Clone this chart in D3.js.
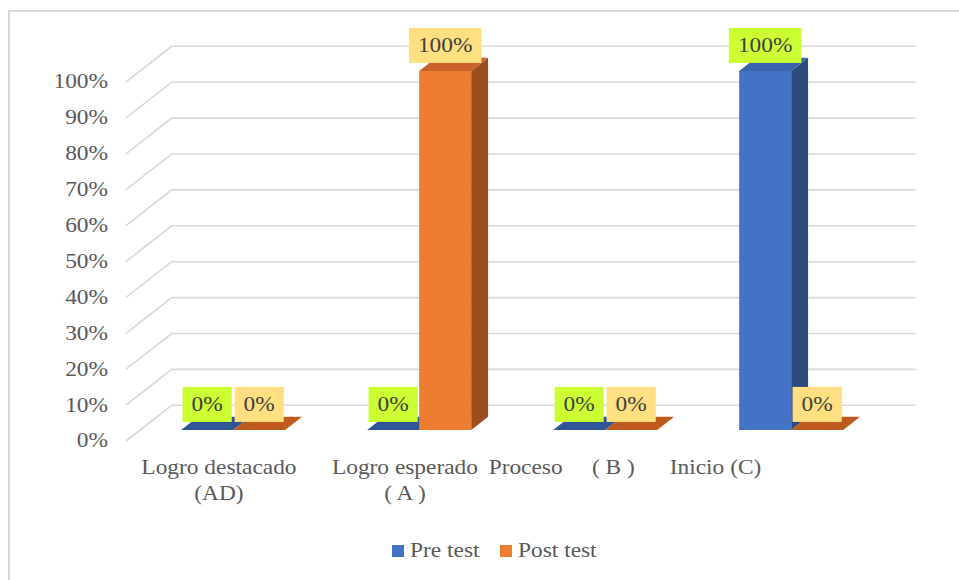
<!DOCTYPE html>
<html><head><meta charset="utf-8">
<script src="https://cdn.jsdelivr.net/npm/d3@7"></script>
<style>body{margin:0;background:#fff}svg{display:block}</style>
</head><body>
<svg id="c" width="959" height="580"></svg>
<script>
const categories = ["Logro destacado\n(AD)", "Logro esperado\n( A )", "Proceso     ( B )          ", "Inicio (C)                     "];
const seriesNames = ["Pre test", "Post test"];
const preTest = [0, 0, 0, 1];
const postTest = [0, 1, 0, 0];
const yTicks = [0, 0.1, 0.2, 0.3, 0.4, 0.5, 0.6, 0.7, 0.8, 0.9, 1.0];

const svg = d3.select("#c");
const FONT = "'Liberation Serif','Times New Roman',serif";
const SX = 1.17;
const FS = 20;

// border
svg.append("rect").attr("x", 9).attr("y", 11).attr("width", 1000).attr("height", 700)
  .attr("fill", "#fff").attr("stroke", "#d9d9d9").attr("stroke-width", 2);

const x = d3.scaleBand().domain(categories).range([126, 870]);
const inner = d3.scaleBand().domain(seriesNames).range([0, 104]);
const y = d3.scaleLinear().domain([0, 1]).range([441, 82]);
const DX = 45.7, DY = -35.7;
const zF = 0.31, zB = 0.68;
const P = (xf, v, z) => [xf + z * DX, y(v) + z * DY];

// gridlines: back wall + left side wall
const grid = svg.append("g").attr("stroke", "#d9d9d9").attr("stroke-width", 1.6).attr("fill", "none");
yTicks.forEach(t => {
  const a = P(126, t, 0), b = P(126, t, 1), c = P(870, t, 1);
  grid.append("path").attr("d", `M${a[0]},${a[1]}L${b[0]},${b[1]}L${c[0]},${c[1]}`);
});

// y tick labels
svg.append("g").selectAll("text").data(yTicks).join("text")
  .attr("transform", d => `translate(108,${y(d)}) scale(${SX},1)`)
  .attr("text-anchor", "end").attr("dominant-baseline", "central")
  .attr("font-family", FONT).attr("font-size", FS).attr("fill", "#595959")
  .text(d => d3.format(".0%")(d));

const colors = {
  "Pre test": {front: "#4472C4", top: "#3A64AE", side: "#2E4B7F", flat: "#2F5597", label: "#CCFF33"},
  "Post test": {front: "#ED7D31", top: "#C8622A", side: "#9C4E1F", flat: "#BF5A1E", label: "#FFDF80"}
};

const bars = [];
categories.forEach((c, i) => {
  [["Pre test", preTest[i]], ["Post test", postTest[i]]].forEach(([s, v]) => {
    bars.push({c, s, v, x0: x(c) + x.bandwidth() / 2 - 52 + inner(s), w: inner.bandwidth()});
  });
});

const poly = pts => "M" + pts.map(p => p.join(",")).join("L") + "Z";
const bg = svg.append("g");
bars.forEach(b => {
  const col = colors[b.s];
  const x0 = b.x0, x1 = b.x0 + b.w;
  if (b.v > 0) {
    bg.append("path").attr("d", poly([P(x1, 0, zF), P(x1, b.v, zF), P(x1, b.v, zB), P(x1, 0, zB)])).attr("fill", col.side);
    bg.append("path").attr("d", poly([P(x0, b.v, zF), P(x1, b.v, zF), P(x1, b.v, zB), P(x0, b.v, zB)])).attr("fill", col.top);
    bg.append("path").attr("d", poly([P(x0, 0, zF), P(x1, 0, zF), P(x1, b.v, zF), P(x0, b.v, zF)])).attr("fill", col.front);
  } else {
    bg.append("path").attr("d", poly([P(x0, 0, zF), P(x1, 0, zF), P(x1, 0, zB), P(x0, 0, zB)])).attr("fill", col.flat);
  }
});

// data labels
const lg = svg.append("g");
bars.forEach(b => {
  const col = colors[b.s];
  const cx = b.x0 + b.w / 2 + zF * DX;
  const topY = P(0, b.v, zF)[1];
  const g = lg.append("g");
  const t = g.append("text").attr("font-family", FONT).attr("font-size", FS).attr("fill", "#404040")
    .attr("text-anchor", "middle").attr("dominant-baseline", "central")
    .attr("transform", `translate(${cx},${topY - 8 - 17.5}) scale(${SX},1)`)
    .text(d3.format(".0%")(b.v));
  const tw = t.node().getComputedTextLength() * SX;
  const bw = tw + 18;
  g.insert("rect", "text").attr("x", cx - bw / 2).attr("y", topY - 8 - 35).attr("width", bw).attr("height", 35)
    .attr("fill", col.label);
});

// category labels (centered including trailing spaces, drawn trimmed)
const cg = svg.append("g");
const measure = s => {
  const t = cg.append("text").attr("font-family", FONT).attr("font-size", FS)
    .style("white-space", "pre").attr("xml:space", "preserve").text(s);
  const w = t.node().getComputedTextLength();
  t.remove();
  return w;
};
categories.forEach(c => {
  const lines = c.split("\n");
  const cx = x(c) + x.bandwidth() / 2;
  lines.forEach((ln, k) => {
    const full = measure(ln) * SX;
    const trimmed = ln.replace(/\s+$/, "");
    cg.append("text").attr("transform", `translate(${cx - full / 2},${468 + k * 26}) scale(${SX},1)`)
      .attr("text-anchor", "start").attr("dominant-baseline", "central")
      .attr("font-family", FONT).attr("font-size", FS).attr("fill", "#595959")
      .style("white-space", "pre").attr("xml:space", "preserve")
      .text(trimmed);
  });
});

// legend
const legX = [392, 500];
seriesNames.forEach((s, i) => {
  svg.append("rect").attr("x", legX[i]).attr("y", 545).attr("width", 12).attr("height", 12).attr("fill", colors[s].front);
  svg.append("text").attr("transform", `translate(${legX[i] + 18},${551}) scale(${SX},1)`)
    .attr("dominant-baseline", "central").attr("font-family", FONT).attr("font-size", FS).attr("fill", "#595959")
    .text(s);
});
</script>
</body></html>
